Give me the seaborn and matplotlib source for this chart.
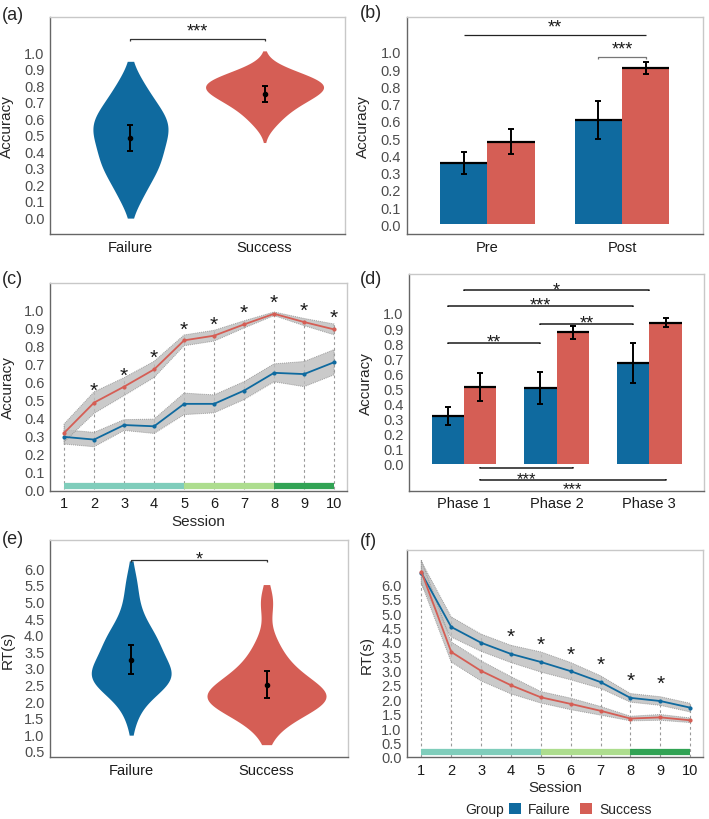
import numpy as np
import pandas as pd
import seaborn as sns
import matplotlib.pyplot as plt
from matplotlib.patches import Patch

groups = ["Failure", "Success"]
palette = {"Failure": "#0F6A9F", "Success": "#D55E55"}

# (a) accuracy per participant
acc_failure = [0.10, 0.17, 0.23, 0.27, 0.30, 0.33, 0.36, 0.39, 0.42, 0.45, 0.48,
               0.51, 0.53, 0.55, 0.57, 0.59, 0.62, 0.65, 0.68, 0.72, 0.77, 0.84]
acc_success = [0.57, 0.63, 0.67, 0.70, 0.72, 0.74, 0.76, 0.78, 0.79, 0.80,
               0.81, 0.82, 0.84, 0.86, 0.89]
acc_mean = [0.48, 0.745]
acc_se = [0.078, 0.047]

# (b) pre / post accuracy
prepost = ["Pre", "Post"]
prepost_failure = [0.355, 0.605]
prepost_success = [0.48, 0.905]
prepost_failure_se = [0.065, 0.11]
prepost_success_se = [0.075, 0.035]

# (c) accuracy by session
sessions = list(range(1, 11))
sess_acc_failure = [0.292, 0.277, 0.358, 0.351, 0.476, 0.476, 0.550, 0.649, 0.642, 0.708]
sess_acc_success = [0.314, 0.483, 0.572, 0.668, 0.830, 0.856, 0.919, 0.978, 0.932, 0.891]
sess_acc_failure_se = [0.04, 0.04, 0.03, 0.04, 0.06, 0.05, 0.05, 0.05, 0.07, 0.07]
sess_acc_success_se = [0.05, 0.06, 0.05, 0.045, 0.03, 0.03, 0.02, 0.01, 0.02, 0.03]
acc_star_sessions = [2, 3, 4, 5, 6, 7, 8, 9, 10]
acc_star_y = [0.587, 0.668, 0.771, 0.928, 0.956, 1.02, 1.076, 1.03, 0.99]

# (d) accuracy by phase
phases = ["Phase 1", "Phase 2", "Phase 3"]
phase_failure = [0.32, 0.503, 0.669]
phase_success = [0.512, 0.872, 0.936]
phase_failure_se = [0.06, 0.104, 0.132]
phase_success_se = [0.093, 0.043, 0.032]

# (e) RT per participant
rt_failure = [1.6, 2.2, 2.4, 2.5, 2.6, 2.65, 2.7, 2.8, 2.9, 3.0, 3.1, 3.3, 3.5,
              3.7, 3.8, 3.9, 4.1, 4.4, 4.9, 5.6]
rt_success = [1.2, 1.6, 1.8, 1.9, 2.0, 2.05, 2.1, 2.15, 2.2, 2.3, 2.45, 2.6, 2.8,
              3.0, 3.3, 3.8, 5.0]
rt_mean = [3.25, 2.5]
rt_se = [0.43, 0.40]

# (f) RT by session
sess_rt_failure = [6.40, 4.52, 3.97, 3.58, 3.30, 2.98, 2.60, 2.05, 1.94, 1.71]
sess_rt_success = [6.45, 3.65, 2.99, 2.49, 2.07, 1.84, 1.60, 1.33, 1.37, 1.27]
sess_rt_failure_se = [0.40, 0.35, 0.30, 0.30, 0.35, 0.30, 0.22, 0.15, 0.15, 0.15]
sess_rt_success_se = [0.40, 0.35, 0.35, 0.30, 0.20, 0.20, 0.15, 0.08, 0.10, 0.08]
rt_star_sessions = [4, 5, 6, 7, 8, 9]
rt_star_y = [4.40, 4.14, 3.79, 3.42, 2.87, 2.76]

# training phase bands along the session axis
phase_edges = [1, 5, 8, 10]
phase_colors = ["#7FCDBB", "#ADDD8E", "#31A354"]

sns.set_theme(style="white")
plt.rcParams["font.family"] = ["Liberation Sans", "DejaVu Sans"]

STAR_FS = 13


def style_axes(ax):
    for side in ["left", "bottom"]:
        ax.spines[side].set_color("#666666")
        ax.spines[side].set_linewidth(1.0)
    for side in ["top", "right"]:
        ax.spines[side].set_color("#C8C8C8")
        ax.spines[side].set_linewidth(1.0)
    ax.tick_params(axis="both", length=2.5, width=0.8, color="#666666",
                   labelsize=10.5, pad=1.5)
    ax.tick_params(axis="y", labelcolor="#4D4D4D")
    ax.tick_params(axis="x", labelcolor="#1A1A1A")


def star(ax, x, y, label, fs=STAR_FS):
    # put the visual centre of the asterisks at y
    ax.annotate(label, (x, y), xytext=(0, -0.56 * fs), textcoords="offset points",
                ha="center", va="baseline", fontsize=fs, color="#1A1A1A")


def bracket(ax, x1, x2, y, tick, color="#333333", lw=0.9):
    ax.plot([x1, x1, x2, x2], [y + tick, y, y, y + tick], color=color, lw=lw,
            solid_capstyle="butt")


def violin_panel(ax, fail, succ, mean, se, ylabel, widths, cuts, bws):
    df = pd.DataFrame({"group": ["Failure"] * len(fail) + ["Success"] * len(succ),
                       "value": fail + succ})
    # one call per group so each violin keeps its own width and tail length
    for g, w, c, bw in zip(groups, widths, cuts, bws):
        sns.violinplot(data=df[df["group"] == g], x="group", y="value",
                       hue="group", order=groups, hue_order=groups,
                       palette=palette, inner=None, cut=c, bw_adjust=bw,
                       density_norm="width", linewidth=0, saturation=1,
                       width=w, legend=False, ax=ax)
    ax.errorbar(np.arange(len(groups)), mean, yerr=se, fmt="o", color="black",
                ms=3, capsize=2.5, elinewidth=1.4, capthick=1.4, zorder=5)
    ax.set_xlim(-0.6, 1.6)
    ax.set_xlabel("")
    ax.set_ylabel(ylabel, fontsize=11)


def bar_panel(ax, cats, fail, succ, fail_se, succ_se):
    df = pd.DataFrame({"cat": cats * 2,
                       "group": ["Failure"] * len(cats) + ["Success"] * len(cats),
                       "value": fail + succ})
    sns.barplot(data=df, x="cat", y="value", hue="group", order=cats,
                hue_order=groups, palette=palette, saturation=1, width=0.7,
                errorbar=None, linewidth=0, legend=False, ax=ax)
    bars = sorted([p for p in ax.patches if p.get_width() > 0],
                  key=lambda p: p.get_x())
    values = np.column_stack([fail, succ]).ravel()
    errs = np.column_stack([fail_se, succ_se]).ravel()
    centers = np.array([p.get_x() + p.get_width() / 2 for p in bars])
    for p in bars:
        ax.hlines(p.get_height(), p.get_x(), p.get_x() + p.get_width(),
                  color="black", lw=1.6, zorder=3)
    ax.errorbar(centers, values, yerr=errs, fmt="none", ecolor="black",
                capsize=2.5, elinewidth=1.4, capthick=1.4, zorder=4)
    ax.set_xlabel("")
    ax.set_ylabel("Accuracy", fontsize=11)
    return centers


def session_panel(ax, fail, succ, fail_se, succ_se, ylabel, band_y):
    fail, succ = np.array(fail), np.array(succ)
    fail_se, succ_se = np.array(fail_se), np.array(succ_se)
    top = np.maximum(fail + fail_se, succ + succ_se)
    ax.vlines(sessions, 0, top, colors="#9A9A9A", linestyles=(0, (2.5, 2.5)),
              lw=0.8, zorder=1)
    for m, s in [(fail, fail_se), (succ, succ_se)]:
        ax.fill_between(sessions, m - s, m + s, facecolor="#BDBDBD", alpha=0.8,
                        edgecolor="#8C8C8C", linestyle=(0, (1, 1)), lw=0.7,
                        zorder=2)
    df = pd.DataFrame({"session": sessions * 2,
                       "group": ["Failure"] * len(sessions) + ["Success"] * len(sessions),
                       "value": np.concatenate([fail, succ])})
    sns.lineplot(data=df, x="session", y="value", hue="group", hue_order=groups,
                 palette=palette, marker="o", markersize=3, markeredgewidth=0,
                 linewidth=1.3, errorbar=None, legend=False, ax=ax, zorder=3)
    for i, c in enumerate(phase_colors):
        ax.hlines(band_y, phase_edges[i], phase_edges[i + 1], colors=c, lw=4.5,
                  zorder=3)
    ax.set_xticks(sessions)
    ax.set_xlim(0.53, 10.42)
    ax.set_xlabel("Session", fontsize=11)
    ax.set_ylabel(ylabel, fontsize=11)


fig = plt.figure(figsize=(7.09, 8.2), dpi=100)
W, H = 709, 820


def add_axes(left, right, top, bottom):
    return fig.add_axes([left / W, 1 - bottom / H, (right - left) / W, (bottom - top) / H])


ax_a = add_axes(50, 345, 18.3, 235)
ax_b = add_axes(406.7, 702.7, 18.3, 235)
ax_c = add_axes(50, 346.7, 284.3, 491.7)
ax_d = add_axes(409.3, 704, 275, 491.7)
ax_e = add_axes(50, 347.7, 541, 758.3)
ax_f = add_axes(407.3, 702.7, 551, 758.3)

# (a)
violin_panel(ax_a, acc_failure, acc_success, acc_mean, acc_se, "Accuracy",
             widths=[0.56, 0.88], cuts=[1.15, 1.9], bws=[0.85, 1.2])
ax_a.set_ylim(-0.1, 1.21)
ax_a.set_yticks(np.round(np.arange(0, 1.01, 0.1), 1))
bracket(ax_a, 0, 1, 1.081, -0.012)
star(ax_a, 0.5, 1.16, "***")

# (b)
c_b = bar_panel(ax_b, prepost, prepost_failure, prepost_success,
                prepost_failure_se, prepost_success_se)
ax_b.set_xlim(-0.6, 1.6)
ax_b.set_ylim(-0.056, 1.20)
ax_b.set_yticks(np.round(np.arange(0, 1.01, 0.1), 1))
bracket(ax_b, c_b[0], c_b[3], 1.10, 0, color="#222222")
star(ax_b, (c_b[0] + c_b[3]) / 2, 1.174, "**")
bracket(ax_b, c_b[2], c_b[3], 0.969, -0.013, color="#777777")
star(ax_b, (c_b[2] + c_b[3]) / 2, 1.05, "***")

# (c)
session_panel(ax_c, sess_acc_failure, sess_acc_success, sess_acc_failure_se,
              sess_acc_success_se, "Accuracy", 0.02)
ax_c.set_ylim(-0.008, 1.148)
ax_c.set_yticks(np.round(np.arange(0, 1.01, 0.1), 1))
for s, y in zip(acc_star_sessions, acc_star_y):
    star(ax_c, s, y, "*", fs=15)

# (d)
c_d = bar_panel(ax_d, phases, phase_failure, phase_success,
                phase_failure_se, phase_success_se)
ax_d.set_xlim(-0.59, 2.59)
ax_d.set_ylim(-0.177, 1.258)
ax_d.set_yticks(np.round(np.arange(0, 1.01, 0.1), 1))
# c_d order: P1F, P1S, P2F, P2S, P3F, P3S
top_brackets = [(0, 2, 1.155, 1.19, "*"),
                (c_d[0], c_d[4], 1.049, 1.093, "***"),
                (c_d[2], c_d[4], 0.927, 0.971, "**"),
                (c_d[0], c_d[2], 0.80, 0.843, "**")]
for x1, x2, y, ys, lab in top_brackets:
    bracket(ax_d, x1, x2, y, -0.008, color="#1A1A1A", lw=1.1)
    star(ax_d, (x1 + x2) / 2, ys, lab)
low_brackets = [(c_d[1], c_d[3], -0.026, -0.062, "***"),
                (c_d[1], c_d[5], -0.106, -0.133, "***")]
for x1, x2, y, ys, lab in low_brackets:
    bracket(ax_d, x1, x2, y, 0.008, color="#1A1A1A", lw=1.1)
    star(ax_d, (x1 + x2) / 2, ys, lab, fs=12)

# (e)
violin_panel(ax_e, rt_failure, rt_success, rt_mean, rt_se, "RT(s)",
             widths=[0.59, 0.88], cuts=[1.3, 1.1], bws=[0.9, 0.9])
ax_e.set_ylim(0.31, 6.85)
ax_e.set_yticks(np.round(np.arange(0.5, 6.01, 0.5), 1))
bracket(ax_e, 0, 1, 6.26, -0.07)
star(ax_e, 0.5, 6.46, "*")

# (f)
session_panel(ax_f, sess_rt_failure, sess_rt_success, sess_rt_failure_se,
              sess_rt_success_se, "RT(s)", 0.15)
ax_f.set_ylim(-0.02, 7.2)
ax_f.set_yticks(np.round(np.arange(0, 6.01, 0.5), 1))
for s, y in zip(rt_star_sessions, rt_star_y):
    star(ax_f, s, y, "*", fs=15)

for ax in [ax_a, ax_b, ax_c, ax_d, ax_e, ax_f]:
    style_axes(ax)
    ax.yaxis.set_major_formatter(plt.FormatStrFormatter("%.1f"))

ax_a.yaxis.set_label_coords(-0.122, 0.5)
ax_b.yaxis.set_label_coords(-0.124, 0.5)
ax_c.yaxis.set_label_coords(-0.118, 0.5)
ax_d.yaxis.set_label_coords(-0.122, 0.5)
ax_e.yaxis.set_label_coords(-0.118, 0.5)
ax_f.yaxis.set_label_coords(-0.115, 0.5)
ax_c.xaxis.set_label_coords(0.5, -0.112)
ax_f.xaxis.set_label_coords(0.5, -0.108)

labels = [("(a)", 2, 15), ("(b)", 360, 13), ("(c)", 2, 280),
          ("(d)", 360, 280), ("(e)", 2, 540), ("(f)", 360, 541)]
for txt, x, y in labels:
    fig.text(x / W, 1 - y / H, txt, fontsize=13, ha="left", va="center")

fig.text(465 / W, 1 - 810 / H, "Group", fontsize=10, ha="left", va="center")
handles = [Patch(facecolor=palette[g], edgecolor="none") for g in groups]
fig.legend(handles, groups, ncol=2, loc="center left",
           bbox_to_anchor=(509 / W, 1 - 810 / H), frameon=False, fontsize=10,
           handlelength=0.85, handleheight=0.85, handletextpad=0.5,
           columnspacing=0.7, borderpad=0, borderaxespad=0)

fig.savefig("out.png", dpi=100)
